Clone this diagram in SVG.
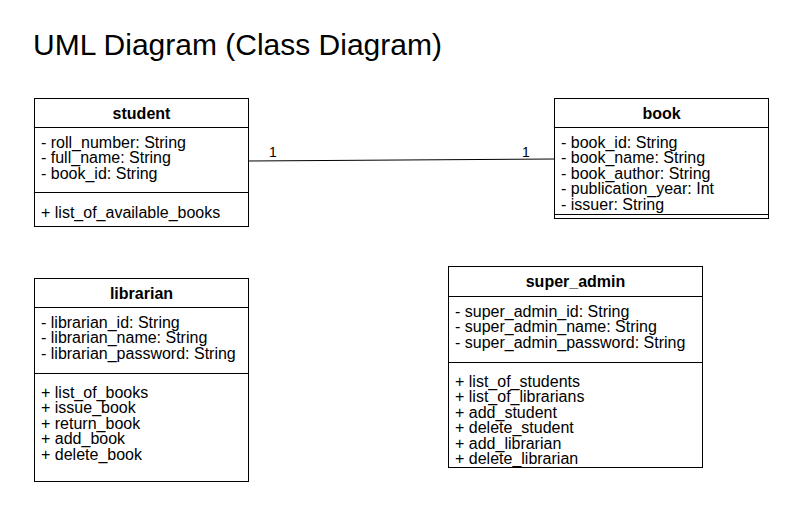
<svg xmlns="http://www.w3.org/2000/svg" width="804" height="522" viewBox="0 0 804 522">
<style>
.box{fill:#ffffff;stroke:#000000;stroke-width:1}
.ln{stroke:#000000;stroke-width:1;fill:none}
.t{font-family:"Liberation Sans",Arial,sans-serif;font-size:16px;fill:#000000}
.h{font-family:"Liberation Sans",Arial,sans-serif;font-size:16px;font-weight:bold;fill:#000000;text-anchor:middle}
.lbl{font-family:"Liberation Sans",Arial,sans-serif;font-size:14px;fill:#000000;text-anchor:middle}
.title{font-family:"Liberation Sans",Arial,sans-serif;font-size:30px;fill:#000000}
</style>
<rect width="804" height="522" fill="#ffffff"/>
<text class="title" x="33" y="55">UML Diagram (Class Diagram)</text>

<g id="connectors">
<line class="ln" x1="248.5" y1="161" x2="554.5" y2="159"/>
<text class="lbl" x="273" y="157">1</text>
<text class="lbl" x="526" y="157">1</text>
</g>

<g id="student">
<rect class="box" x="34.5" y="98.5" width="214" height="128"/>
<line class="ln" x1="34.5" y1="127.5" x2="248.5" y2="127.5"/>
<line class="ln" x1="34.5" y1="192.5" x2="248.5" y2="192.5"/>
<text class="h" x="141.5" y="119">student</text>
<text class="t" x="41" y="147.5">- roll_number: String</text>
<text class="t" x="41" y="163">- full_name: String</text>
<text class="t" x="41" y="178.5">- book_id: String</text>
<text class="t" x="41" y="217.5">+ list_of_available_books</text>
</g>

<g id="book">
<rect class="box" x="554.5" y="98.5" width="214" height="120"/>
<line class="ln" x1="554.5" y1="127.5" x2="768.5" y2="127.5"/>
<line class="ln" x1="554.5" y1="214.5" x2="768.5" y2="214.5"/>
<text class="h" x="661.5" y="119">book</text>
<text class="t" x="561" y="147.5">- book_id: String</text>
<text class="t" x="561" y="163">- book_name: String</text>
<text class="t" x="561" y="178.5">- book_author: String</text>
<text class="t" x="561" y="194">- publication_year: Int</text>
<text class="t" x="561" y="209.5">- issuer: String</text>
</g>

<g id="librarian">
<rect class="box" x="34.5" y="278.5" width="214" height="203"/>
<line class="ln" x1="34.5" y1="307.5" x2="248.5" y2="307.5"/>
<line class="ln" x1="34.5" y1="373.5" x2="248.5" y2="373.5"/>
<text class="h" x="141.5" y="299">librarian</text>
<text class="t" x="41" y="327.5">- librarian_id: String</text>
<text class="t" x="41" y="343">- librarian_name: String</text>
<text class="t" x="41" y="358.5">- librarian_password: String</text>
<text class="t" x="41" y="397.5">+ list_of_books</text>
<text class="t" x="41" y="413">+ issue_book</text>
<text class="t" x="41" y="428.5">+ return_book</text>
<text class="t" x="41" y="444">+ add_book</text>
<text class="t" x="41" y="459.5">+ delete_book</text>
</g>

<g id="super_admin">
<rect class="box" x="448.5" y="266.5" width="254" height="201"/>
<line class="ln" x1="448.5" y1="296.5" x2="702.5" y2="296.5"/>
<line class="ln" x1="448.5" y1="362.5" x2="702.5" y2="362.5"/>
<text class="h" x="575.5" y="287">super_admin</text>
<text class="t" x="455" y="316.5">- super_admin_id: String</text>
<text class="t" x="455" y="332">- super_admin_name: String</text>
<text class="t" x="455" y="347.5">- super_admin_password: String</text>
<text class="t" x="455" y="386.5">+ list_of_students</text>
<text class="t" x="455" y="402">+ list_of_librarians</text>
<text class="t" x="455" y="417.5">+ add_student</text>
<text class="t" x="455" y="433">+ delete_student</text>
<text class="t" x="455" y="448.5">+ add_librarian</text>
<text class="t" x="455" y="464">+ delete_librarian</text>
</g>
</svg>
